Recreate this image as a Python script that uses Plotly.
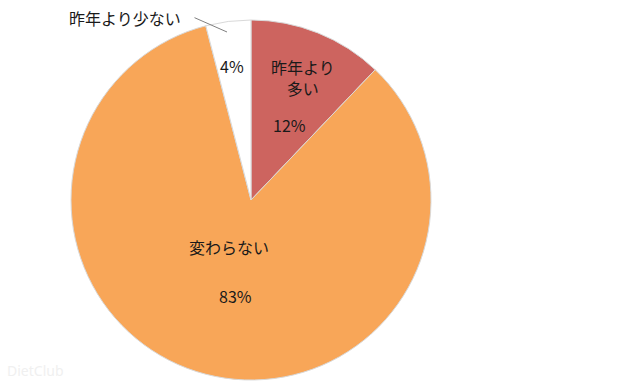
import math
import plotly.graph_objects as go

labels = ["昨年より多い", "変わらない", "昨年より少ない"]
values = [12, 83, 4]
name_texts = ["昨年より<br>多い", "変わらない", ""]
pct_texts = ["12%", "83%", "4%"]
colors = ["#CD645F", "#F8A658", "#FFFFFF"]

W, H = 640, 384
CX, CY, R = 251, 200, 180
# label anchor: radial fraction, angle tweak, and pixel offsets (style)
label_r = [0.64, 0.40, 0.75]
label_dang = [0, 0, -1]
name_off = [(9, -16), (-4, -23), (0, 0)]
pct_off = [(-4, 32), (3, 26), (0, 0)]

fig = go.Figure(go.Pie(
    labels=labels,
    values=values,
    sort=False,
    direction="clockwise",
    rotation=0,
    marker=dict(colors=colors, line=dict(color="#D9D9D9", width=1)),
    textinfo="none",
    hoverinfo="label+percent",
    domain=dict(x=[(CX - R) / W, (CX + R) / W], y=[1 - (CY + R) / H, 1 - (CY - R) / H]),
    showlegend=False,
))

font = dict(family="Noto Sans CJK JP", size=16, color="#1a1a1a")
total = sum(values)
cum = 0
for i, v in enumerate(values):
    mid = (cum + v / 2) / total * 360 + label_dang[i]
    cum += v
    a = math.radians(mid)
    px = CX + label_r[i] * R * math.sin(a)
    py = CY - label_r[i] * R * math.cos(a)
    if name_texts[i]:
        fig.add_annotation(
            x=(px + name_off[i][0]) / W, y=1 - (py + name_off[i][1]) / H,
            xref="paper", yref="paper", xanchor="center", yanchor="middle",
            text=name_texts[i], showarrow=False, font=font,
        )
    fig.add_annotation(
        x=(px + pct_off[i][0]) / W, y=1 - (py + pct_off[i][1]) / H,
        xref="paper", yref="paper", xanchor="center", yanchor="middle",
        text=pct_texts[i], showarrow=False, font=font,
    )

fig.add_annotation(
    x=227 / W, y=1 - 32 / H, xref="paper", yref="paper",
    ax=-34, ay=-15, text="", showarrow=True, arrowhead=0, arrowwidth=1, arrowcolor="#7f7f7f",
)
fig.add_annotation(
    x=125 / W, y=1 - 18 / H, xref="paper", yref="paper",
    xanchor="center", yanchor="middle",
    text=labels[2], showarrow=False, font=font,
)
fig.add_annotation(
    x=5 / W, y=1 - 370 / H, xref="paper", yref="paper", xanchor="left", yanchor="middle",
    text="DietClub", showarrow=False,
    font=dict(family="Noto Sans", size=14, color="#f0f0f0"),
)

fig.update_layout(
    width=W, height=H,
    margin=dict(l=0, r=0, t=0, b=0),
    paper_bgcolor="white", plot_bgcolor="white",
)
fig.write_html("out.html")
